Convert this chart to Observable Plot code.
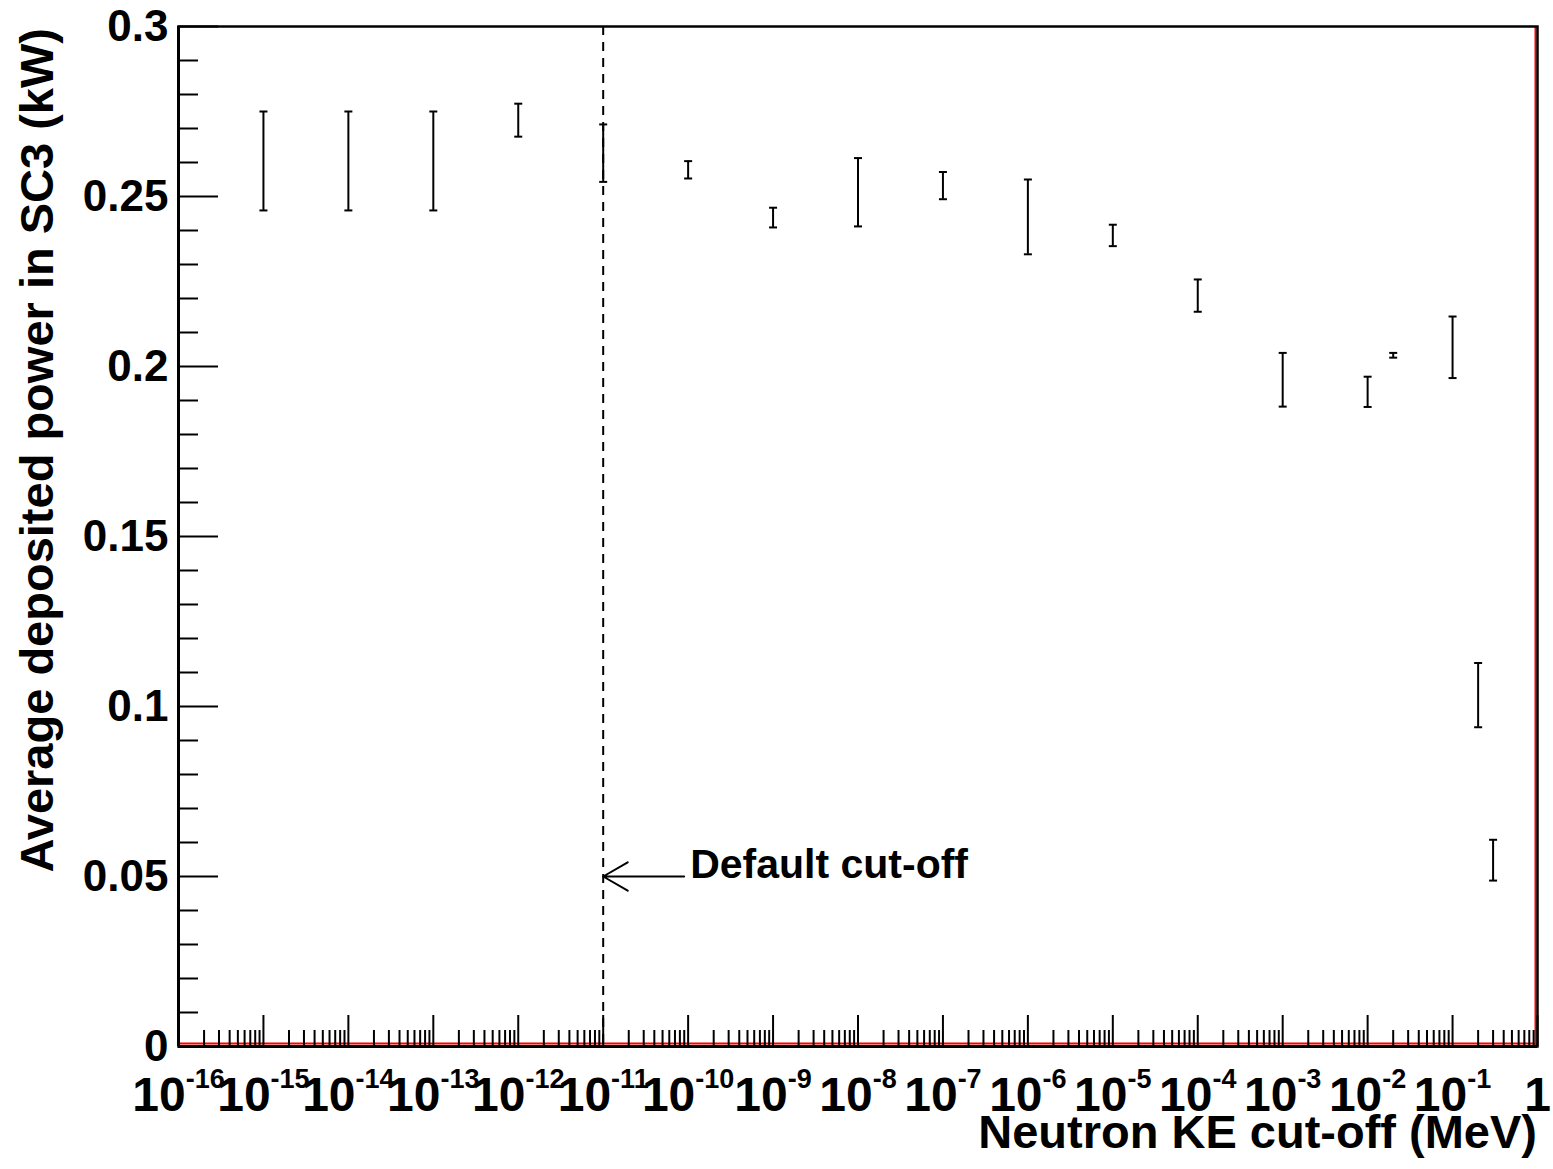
<!DOCTYPE html>
<html>
<head>
<meta charset="utf-8">
<script src="https://cdn.jsdelivr.net/npm/d3@7"></script>
<script src="https://cdn.jsdelivr.net/npm/@observablehq/plot@0.6"></script>
<style>
  html, body { margin: 0; padding: 0; background: white; }
  #chart svg { display: block; }
</style>
</head>
<body>
<div id="chart"></div>
<script>
// Neutron KE cut-off (MeV)
const energies = [1e-15, 1e-14, 1e-13, 1e-12, 1e-11, 1e-10, 1e-9, 1e-8, 1e-7, 1e-6, 1e-5, 1e-4, 1e-3, 1e-2, 2e-2, 1e-1, 2e-1, 3e-1];
// error-bar lower / upper ends (kW)
const lows  = [0.2459, 0.2459, 0.2459, 0.2676, 0.2543, 0.2553, 0.2409, 0.2412, 0.2492, 0.2330, 0.2354, 0.2161, 0.1882, 0.1881, 0.2026, 0.1966, 0.0939, 0.0488];
const highs = [0.2750, 0.2750, 0.2750, 0.2773, 0.2712, 0.2604, 0.2467, 0.2613, 0.2572, 0.2550, 0.2417, 0.2256, 0.2040, 0.1970, 0.2040, 0.2147, 0.1128, 0.0608];

// axis ticks
const xMajorTicks = [1e-16, 1e-15, 1e-14, 1e-13, 1e-12, 1e-11, 1e-10, 1e-9, 1e-8, 1e-7, 1e-6, 1e-5, 1e-4, 1e-3, 1e-2, 1e-1, 1];
const xMinorMultipliers = [2, 3, 4, 5, 6, 7, 8, 9];
const yMajorTicks = [0, 0.05, 0.1, 0.15, 0.2, 0.25, 0.3];
const yMinorTicks = [0.01, 0.02, 0.03, 0.04, 0.06, 0.07, 0.08, 0.09, 0.11, 0.12, 0.13, 0.14, 0.16, 0.17, 0.18, 0.19, 0.21, 0.22, 0.23, 0.24, 0.26, 0.27, 0.28, 0.29];

// annotation
const defaultCut = [1e-11];
const annotationText = ["Default cut-off"];
const annotationX = [1e-10];
const annotationY = [0.05];

const xTitle = "Neutron KE cut-off (MeV)";
const yTitle = "Average deposited power in SC3 (kW)";

const xMinorTicks = xMajorTicks.slice(0, -1).flatMap(d => xMinorMultipliers.map(m => d * m));
const points = energies.map((e, i) => ({e, lo: lows[i], hi: highs[i]}));
const annot = annotationText.map((t, i) => ({t, x: annotationX[i], y: annotationY[i], x2: defaultCut[i]}));

const capSymbol = {
  draw(context) {
    context.moveTo(-4, 0);
    context.lineTo(4, 0);
  }
};

const FONT = "'Liberation Sans', Arial, Helvetica, sans-serif";

const chart = Plot.plot({
  width: 1553,
  height: 1169,
  marginTop: 26,
  marginLeft: 178,
  marginRight: 16,
  marginBottom: 123,
  style: {fontFamily: FONT, fontWeight: "bold", background: "white", color: "black"},
  x: {type: "log", domain: [1e-16, 1]},
  y: {domain: [0, 0.3]},
  marks: [
    // red lines along bottom and right
    Plot.ruleY([0], {stroke: "#ff0000", strokeWidth: 2, dy: -3}),
    Plot.ruleX([1], {stroke: "#ff0000", strokeWidth: 2, dx: -2}),
    // ticks (inside)
    Plot.axisX({ticks: xMajorTicks, tickSize: -31, strokeWidth: 2, fill: "none", label: null}),
    Plot.axisX({ticks: xMinorTicks, tickSize: -16, strokeWidth: 2, fill: "none", label: null}),
    Plot.axisY({ticks: yMajorTicks, tickSize: -40, strokeWidth: 2, fill: "none", label: null}),
    Plot.axisY({ticks: yMinorTicks, tickSize: -20, strokeWidth: 2, fill: "none", label: null}),
    // tick labels
    Plot.axisX({
      ticks: xMajorTicks, tickSize: 0, tickPadding: 30, fontSize: 48, fill: "black", label: null,
      tickFormat: d => d === 1 ? "1" : "10^" + Math.round(Math.log10(d))
    }),
    Plot.axisY({
      ticks: yMajorTicks, tickSize: 0, tickPadding: 10, fontSize: 44, fill: "black", label: null,
      tickFormat: d => String(+d.toFixed(2))
    }),
    // dashed default cut-off line
    Plot.ruleX(defaultCut, {stroke: "black", strokeWidth: 2, strokeDasharray: "9,7"}),
    // arrow + label
    Plot.arrow(annot, {x1: "x", y1: "y", x2: "x2", y2: "y", stroke: "black", strokeWidth: 2, headLength: 34, headAngle: 60, insetStart: 4}),
    Plot.text(annot, {x: "x", y: "y", text: "t", textAnchor: "start", lineAnchor: "middle", dx: 2, dy: -12, fontSize: 41, fill: "black"}),
    // error bars
    Plot.ruleX(points, {x: "e", y1: "lo", y2: "hi", stroke: "black", strokeWidth: 2}),
    Plot.dot(points, {x: "e", y: "lo", symbol: capSymbol, stroke: "black", strokeWidth: 2, fill: "none"}),
    Plot.dot(points, {x: "e", y: "hi", symbol: capSymbol, stroke: "black", strokeWidth: 2, fill: "none"}),
    // frame
    Plot.frame({stroke: "black", strokeWidth: 2.5}),
    Plot.ruleX([1e-16], {stroke: "black", strokeWidth: 3}),
    Plot.ruleY([0], {stroke: "black", strokeWidth: 3})
  ]
});

const svg = d3.select(chart);
// superscript exponents on x tick labels
svg.selectAll('g[aria-label="x-axis tick label"] text').each(function() {
  const t = this.textContent;
  if (t.includes("^")) {
    const [base, exp] = t.split("^");
    const el = d3.select(this);
    el.text(null);
    el.append("tspan").text(base);
    el.append("tspan").attr("dy", -23).attr("font-size", 27).text(exp);
  }
});

// axis titles
svg.append("text")
  .attr("transform", "translate(53,28) rotate(-90)")
  .attr("text-anchor", "end")
  .attr("font-size", 47)
  .attr("font-weight", "bold")
  .attr("font-family", FONT)
  .attr("fill", "black")
  .text(yTitle);
svg.append("text")
  .attr("x", 1537)
  .attr("y", 1148)
  .attr("text-anchor", "end")
  .attr("font-size", 47)
  .attr("font-weight", "bold")
  .attr("font-family", FONT)
  .attr("fill", "black")
  .text(xTitle);

document.getElementById("chart").appendChild(chart);
</script>
</body>
</html>
